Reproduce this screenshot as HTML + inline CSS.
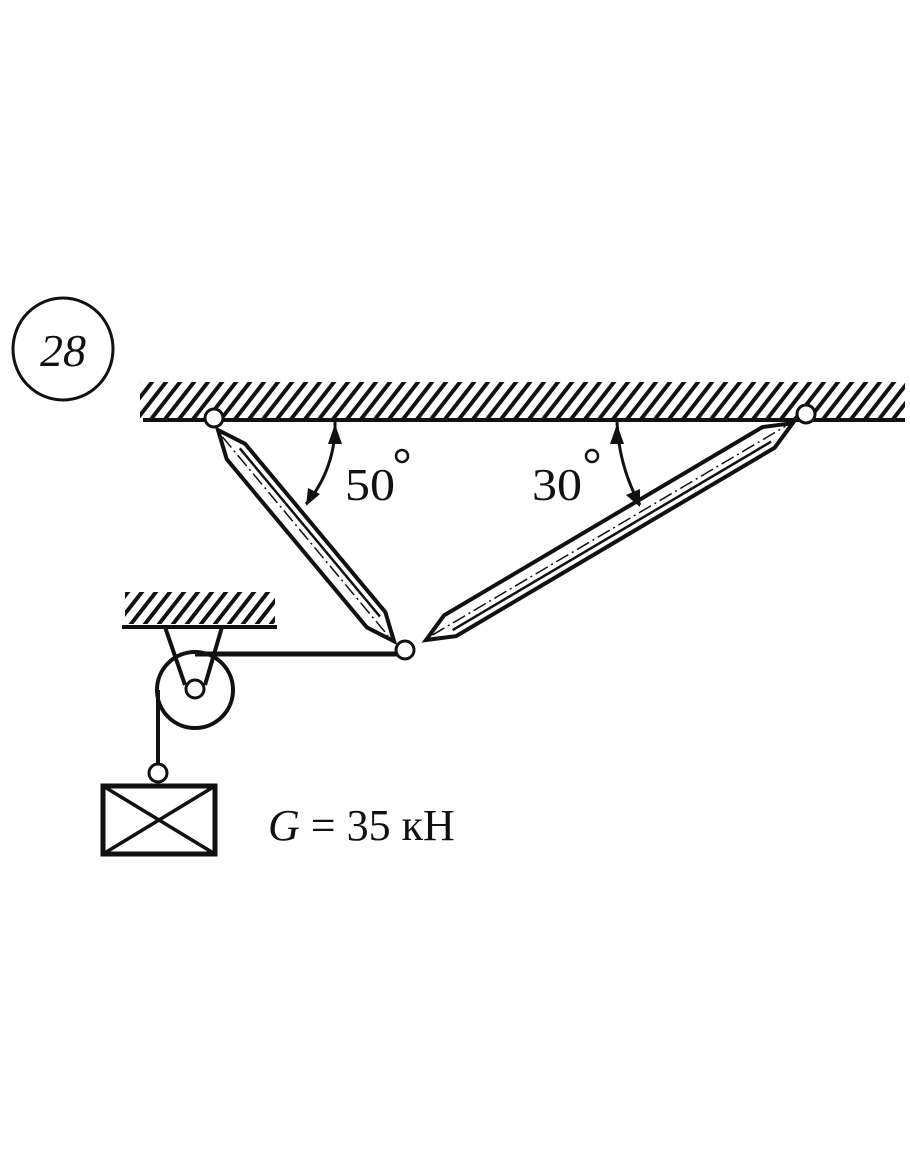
<!DOCTYPE html>
<html><head><meta charset="utf-8"><style>
html,body{margin:0;padding:0;background:#fff;}
svg{display:block}
text{font-family:"Liberation Serif",serif;fill:#111}
</style></head><body>
<svg width="910" height="1155" viewBox="0 0 910 1155" xmlns="http://www.w3.org/2000/svg">
<defs>
<pattern id="h" width="14" height="40" patternUnits="userSpaceOnUse" patternTransform="skewX(-38)">
<rect x="0" y="0" width="5" height="40" fill="#111"/>
</pattern>
</defs>
<ellipse cx="63" cy="349" rx="50" ry="51" fill="none" stroke="#111" stroke-width="3"/>
<text x="63" y="366" font-size="46" font-style="italic" text-anchor="middle">28</text>
<rect x="140" y="382" width="765" height="36" fill="url(#h)"/>
<line x1="143" y1="420" x2="905" y2="420" stroke="#111" stroke-width="4"/>
<g transform="translate(218,430) rotate(50.2)" stroke="#111" fill="#fff">
<path d="M0,0 L28,-12 L247,-12 L275,0 L247,12 L28,12 Z" stroke-width="4"/>
<line x1="28" y1="-5" x2="247" y2="-5" stroke-width="2.5"/>
<line x1="8" y1="1" x2="267" y2="1" stroke-width="1.5" stroke-dasharray="14,4,2,4"/>
</g>
<g transform="translate(426,640) rotate(-30.6)" stroke="#111" fill="#fff">
<path d="M0,0 L28,-12 L398,-12 L426,0 L398,12 L28,12 Z" stroke-width="4"/>
<line x1="28" y1="5" x2="398" y2="5" stroke-width="2.5"/>
<line x1="8" y1="-1" x2="418" y2="-1" stroke-width="1.5" stroke-dasharray="14,4,2,4"/>
</g>
<circle cx="214" cy="418" r="9" fill="#fff" stroke="#111" stroke-width="3"/>
<circle cx="806" cy="414" r="9" fill="#fff" stroke="#111" stroke-width="3"/>
<path d="M335,422 A121,121 0 0 1 306,504" fill="none" stroke="#111" stroke-width="3"/>
<path d="M335,424 l-7,20 l14,0 z" fill="#111"/>
<path d="M617,422 A190,190 0 0 0 640,505" fill="none" stroke="#111" stroke-width="3"/>
<path d="M617,424 l-7,20 l14,0 z" fill="#111"/>
<path d="M640,507 l-14,-12 l14,-6 z" fill="#111"/>
<path d="M306,506 l2,-18 l12,6 z" fill="#111"/>
<text x="345" y="500" font-size="46" textLength="50" lengthAdjust="spacingAndGlyphs">50</text>
<circle cx="402" cy="456" r="6" fill="none" stroke="#111" stroke-width="2.5"/>
<text x="532" y="500" font-size="46" textLength="50" lengthAdjust="spacingAndGlyphs">30</text>
<circle cx="592" cy="456" r="6" fill="none" stroke="#111" stroke-width="2.5"/>
<rect x="125" y="592" width="150" height="32" fill="url(#h)"/>
<line x1="122" y1="627" x2="277" y2="627" stroke="#111" stroke-width="4"/>
<circle cx="195" cy="690" r="38" fill="none" stroke="#111" stroke-width="4"/>
<path d="M165,627 L185,685 M222,627 L205,685" stroke="#111" stroke-width="4"/>
<circle cx="195" cy="689" r="9" fill="#fff" stroke="#111" stroke-width="3"/>
<line x1="195" y1="654" x2="400" y2="654" stroke="#111" stroke-width="5"/>
<circle cx="405" cy="650" r="9" fill="#fff" stroke="#111" stroke-width="3"/>
<line x1="158" y1="690" x2="158" y2="764" stroke="#111" stroke-width="4"/>
<circle cx="158" cy="773" r="9" fill="#fff" stroke="#111" stroke-width="3"/>
<rect x="103" y="786" width="112" height="68" fill="none" stroke="#111" stroke-width="5"/>
<path d="M103,786 L215,854 M215,786 L103,854" stroke="#111" stroke-width="3.5"/>
<text x="268" y="840" font-size="44"><tspan font-style="italic">G</tspan> = 35 кН</text>
</svg>
</body></html>
